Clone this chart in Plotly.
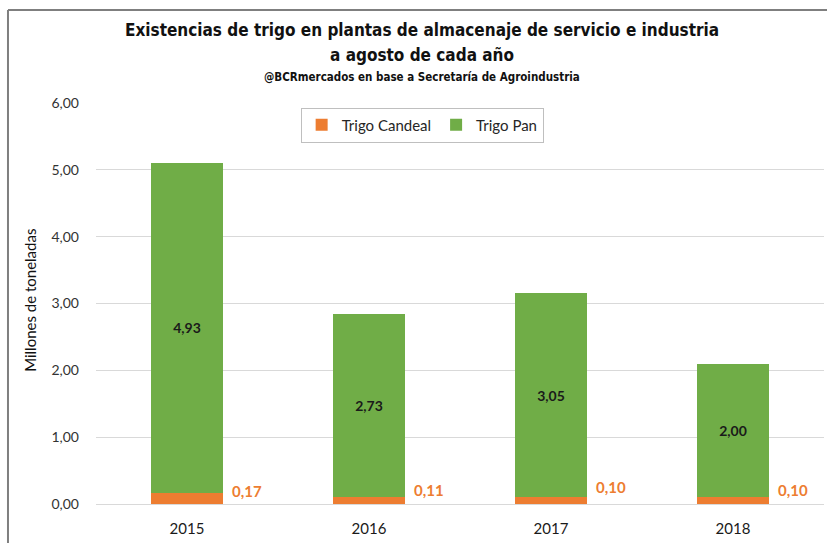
import plotly.graph_objects as go

years = ["2015", "2016", "2017", "2018"]
candeal = [0.17, 0.11, 0.10, 0.10]
pan = [4.93, 2.73, 3.05, 2.00]
y_ticks = [0, 1, 2, 3, 4, 5, 6]

ORANGE = "#ED7D31"
GREEN = "#70AD47"

def fmt(v):
    return f"{v:.2f}".replace(".", ",")

fig = go.Figure()
fig.add_trace(go.Bar(
    x=years, y=candeal, name="Trigo Candeal", marker=dict(color=ORANGE, line=dict(width=0)),
    hoverinfo="skip",
))
fig.add_trace(go.Bar(
    x=years, y=pan, name="Trigo Pan", marker=dict(color=GREEN, line=dict(width=0)),
    text=[fmt(v) for v in pan], textposition="inside", insidetextanchor="middle",
    textangle=0,
    textfont=dict(family="Lato", size=14, color="#1a1a1a", weight="bold"),
    hoverinfo="skip",
))

annotations = []
yshifts = [13, 14, 17, 14]
for i, (v, ys) in enumerate(zip(candeal, yshifts)):
    annotations.append(dict(
        x=i, y=0, xref="x", yref="y", text=fmt(v), showarrow=False,
        xanchor="left", yanchor="middle", xshift=43, yshift=ys,
        font=dict(family="Lato", size=15, color=ORANGE, weight="bold"),
    ))

TFAM = "'Liberation Sans Narrow', 'DejaVu Sans Condensed', 'Liberation Sans', sans-serif"
title_font = dict(family=TFAM, color="#111111", weight="bold")
annotations += [
    dict(text="Existencias de trigo en plantas de almacenaje de servicio e industria",
         xref="paper", yref="paper", x=0.448, y=1.182, showarrow=False,
         xanchor="center", yanchor="middle", font=dict(size=17, **title_font)),
    dict(text="a agosto de cada año",
         xref="paper", yref="paper", x=0.448, y=1.120, showarrow=False,
         xanchor="center", yanchor="middle", font=dict(size=17, **title_font)),
    dict(text="@BCRmercados en base a Secretaría de Agroindustria",
         xref="paper", yref="paper", x=0.448, y=1.065, showarrow=False,
         xanchor="center", yanchor="middle", font=dict(size=11.5, **title_font)),
    dict(text="Millones de toneladas", textangle=-90,
         xref="paper", yref="paper", x=-0.0907, y=0.509, showarrow=False,
         xanchor="center", yanchor="middle",
         font=dict(family="Lato", size=15, color="#111111")),
]

fig.update_layout(
    width=827, height=543,
    margin=dict(l=96, r=3, t=103, b=39, autoexpand=False),
    paper_bgcolor="white", plot_bgcolor="white",
    barmode="stack", bargap=0.6,
    separators=",.",
    showlegend=True,
    legend=dict(
        orientation="h", x=0.448, y=0.945, xanchor="center", yanchor="middle",
        traceorder="normal", bordercolor="#bfbfbf", borderwidth=1,
        bgcolor="white", font=dict(family="Lato", size=15, color="#262626"),
        itemwidth=30,
    ),
    xaxis=dict(
        type="category", range=[-0.5, 3.5], showgrid=False, zeroline=False, showline=False,
        ticks="", tickfont=dict(family="Lato", size=15, color="#1a1a1a"),
        ticklabelstandoff=14,
    ),
    yaxis=dict(
        range=[0, 6], tickvals=y_ticks, tickformat=".2f",
        showgrid=True, gridcolor="#d9d9d9", gridwidth=1,
        zeroline=True, zerolinecolor="#d9d9d9", zerolinewidth=1,
        showline=False, ticks="",
        tickfont=dict(family="Lato", size=14, color="#333333"),
        ticklabelstandoff=16,
    ),
    annotations=annotations,
    shapes=[
        dict(type="line", xref="paper", yref="paper", x0=-0.1209, x1=1.01,
             y0=1.232, y1=1.232, line=dict(color="#7f7f7f", width=2)),
        dict(type="line", xref="paper", yref="paper", x0=-0.1209, x1=-0.1209,
             y0=1.232, y1=-0.12, line=dict(color="#7f7f7f", width=2)),
    ],
)

fig.write_html("out.html", config={"displayModeBar": False},
               post_script="document.body.style.margin='0';")
